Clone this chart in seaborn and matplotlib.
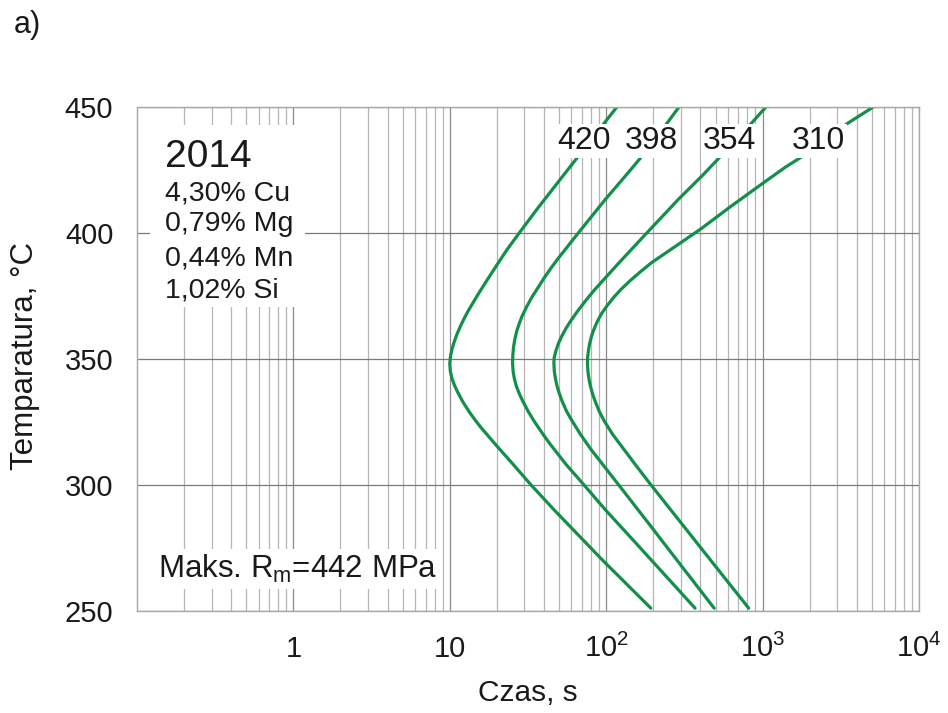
import numpy as np
import pandas as pd
import matplotlib
matplotlib.use("Agg")
import matplotlib.pyplot as plt
import seaborn as sns
from matplotlib.ticker import FixedLocator, FixedFormatter, LogLocator, NullFormatter
from matplotlib.patches import Rectangle

# C-curves of alloy 2014: ageing time (s) needed at each temperature (°C)
# to keep the given tensile strength Rm (MPa); each curve runs top -> bottom
rm_levels = [420, 398, 354, 310]

temp_420 = [450, 440, 430, 420, 410, 400, 393, 386, 380, 376, 373, 369, 366, 363, 360, 357,
            354, 351, 348, 345, 342, 339, 336, 333, 329, 326, 323, 316, 308, 300, 290, 270, 251]
time_420 = [117, 87.5, 65.5, 49, 36.7, 27.8, 23.0, 19.4, 16.8, 15.3, 14.3, 13.1, 12.35, 11.7,
            11.15, 10.7, 10.35, 10.1, 10.0, 10.08, 10.35, 10.8, 11.4, 12.1, 13.3, 14.4, 15.7,
            19.6, 25.5, 33, 46.5, 95, 193]

temp_398 = [450, 440, 433, 425, 413.4, 405, 397.7, 390, 386, 382, 378, 374.5, 371, 367, 364,
            361, 358, 355, 351.5, 348.5, 345, 342, 339, 336, 333, 329, 325.4, 320, 316, 308,
            300, 290, 275.5, 251]
time_398 = [292, 222, 183, 143, 99, 77, 62, 49.5, 44.3, 40, 36.4, 33.5, 31.2, 29.0, 27.8,
            26.8, 26.1, 25.6, 25.3, 25.2, 25.4, 25.9, 26.7, 27.9, 29.4, 31.8, 34.5, 39.5, 44,
            55.5, 72, 99, 162, 370]

temp_354 = [450, 441, 433, 423, 413.4, 401.7, 395, 388.2, 381, 377.5, 374.5, 371, 368, 365,
            362, 359, 356, 353, 350.5, 348.5, 345, 342, 339, 336, 333, 329, 325.4, 320, 314,
            307, 300, 285, 270, 251]
time_354 = [1050, 780, 590, 415, 290, 193, 153, 121, 95, 84.5, 77, 69.5, 64, 59.2, 55.2, 52,
            49.4, 47.6, 46.5, 46.3, 46.6, 47.4, 48.6, 50.3, 52.4, 56, 60.5, 68.5, 80, 98, 120,
            185, 284, 490]

temp_310 = [450, 443.5, 438, 433, 426, 418.7, 410, 401.7, 395, 388.2, 384.5, 381, 377.5,
            374.5, 371, 368, 365, 362, 359, 356, 353, 350.5, 348.5, 345, 342, 339, 336, 333,
            329, 325.4, 320, 314, 307, 300, 285, 270, 251]
time_310 = [5100, 3490, 2700, 2090, 1390, 952, 610, 405, 282, 195, 165, 142, 124, 112, 101,
            93.5, 88, 83.8, 80.6, 78.3, 76.9, 76.1, 75.9, 76.4, 77.6, 79.4, 81.9, 85.2, 90.5,
            97, 110, 130, 158, 193, 300, 466, 815]

# curve labels (time, temperature of the text baseline)
label_time = [72, 195, 614, 2275]
label_temp = [433.3, 433.3, 433.3, 433.3]

x_ticks = [1, 10, 100, 1000, 10000]
x_ticklabels = ["1", "10", r"$10^{2}$", r"$10^{3}$", r"$10^{4}$"]
y_ticks = [250, 300, 350, 400, 450]

alloy = "2014"
composition = ["4,30% Cu", "0,79% Mg", "0,44% Mn", "1,02% Si"]
max_strength = r"Maks. R$_{\mathrm{m}}$=442 MPa"

frames = []
for rm, t, T in zip(rm_levels,
                    [time_420, time_398, time_354, time_310],
                    [temp_420, temp_398, temp_354, temp_310]):
    frames.append(pd.DataFrame({"time": t, "temp": T, "rm": rm}))
df = pd.concat(frames, ignore_index=True)

sns.set_theme(style="white")
plt.rcParams["font.family"] = ["Liberation Sans", "DejaVu Sans"]
plt.rcParams["mathtext.fontset"] = "custom"
plt.rcParams["mathtext.rm"] = "Liberation Sans"
plt.rcParams["mathtext.it"] = "Liberation Sans:italic"
plt.rcParams["mathtext.bf"] = "Liberation Sans:bold"

green = "#12904a"
text_color = "#1a1a1a"

fig = plt.figure(figsize=(9.48, 7.13), dpi=100)
ax = fig.add_axes([0.1445, 0.1435, 0.8249, 0.7064])
ax.set_xscale("log")

sns.lineplot(data=df, x="time", y="temp", hue="rm", palette=[green] * 4,
             sort=False, estimator=None, legend=False, linewidth=2.3, ax=ax)
for ln in ax.get_lines():
    ln.set_solid_joinstyle("round")
    ln.set_zorder(2)

ax.set_xlim(0.1, 10000)
ax.set_ylim(250, 450)

ax.xaxis.set_major_locator(FixedLocator(x_ticks))
ax.xaxis.set_major_formatter(FixedFormatter(x_ticklabels))
ax.xaxis.set_minor_locator(LogLocator(base=10, subs=np.arange(2, 10), numticks=20))
ax.xaxis.set_minor_formatter(NullFormatter())
ax.set_yticks(y_ticks)

ax.set_axisbelow(True)
ax.grid(which="major", axis="x", color="#8a8a8a", linewidth=0.9)
ax.grid(which="minor", axis="x", color="#b5b5b5", linewidth=0.9)
ax.grid(which="major", axis="y", color="#7a7a7a", linewidth=0.9)
for sp in ax.spines.values():
    sp.set_color("#a8a8a8")
    sp.set_linewidth(1.0)

ax.tick_params(which="both", length=0)
ax.tick_params(axis="x", labelsize=21, pad=33, colors=text_color)
ax.tick_params(axis="y", labelsize=21, pad=17, colors=text_color)
for lab in ax.get_xticklabels():
    lab.set_verticalalignment("baseline")

ax.set_xlabel("Czas, s", fontsize=21.5, color=text_color)
ax.set_ylabel("Temparatura, °C", fontsize=22.5, color=text_color)
ax.xaxis.set_label_coords(0.5, -0.136)
ax.yaxis.set_label_coords(-0.124, 0.505)

# curve labels on white boxes
for rm, lt, lT in zip(rm_levels, label_time, label_temp):
    ax.text(lt, lT, str(rm), fontsize=23, ha="center", va="baseline", color=text_color,
            zorder=3, bbox=dict(facecolor="white", edgecolor="none", pad=1.5))

# alloy composition block
ax.add_patch(Rectangle((0.0166, 0.603), 0.1985, 0.361, transform=ax.transAxes,
                       facecolor="white", edgecolor="none", zorder=1.5))
ax.text(0.0358, 0.881, alloy, transform=ax.transAxes, fontsize=28,
        ha="left", va="baseline", color=text_color, zorder=3)
for txt, yb in zip(composition, [0.815, 0.753, 0.685, 0.622]):
    ax.text(0.0358, yb, txt, transform=ax.transAxes, fontsize=20.5,
            ha="left", va="baseline", color=text_color, zorder=3)

ax.text(0.0272, 0.0643, max_strength, transform=ax.transAxes, fontsize=22.5,
        ha="left", va="baseline", color=text_color, zorder=3,
        bbox=dict(facecolor="white", edgecolor="none", pad=3))

fig.text(14 / 948, 1 - 10 / 713, "a)", fontsize=22, ha="left", va="top", color=text_color)

fig.savefig("out.png", dpi=100)
